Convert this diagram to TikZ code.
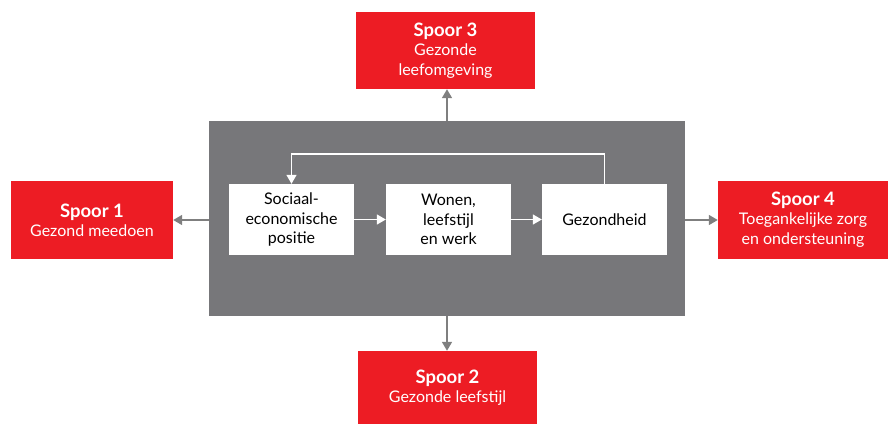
\documentclass[tikz,border=0pt]{standalone}
\usepackage{fontspec}
\setmainfont{Lato}
\usetikzlibrary{arrows.meta}
\definecolor{spred}{HTML}{ED1C24}
\definecolor{bggray}{HTML}{77777A}
\definecolor{argray}{HTML}{7F7F7F}
\begin{document}
\begin{tikzpicture}[x=1pt,y=-1pt,
  spoor/.style={fill=spred,draw=none,text=white,align=center,inner sep=0pt,font=\fontsize{16}{20}\selectfont},
  wbox/.style={fill=white,draw=none,align=center,inner sep=0pt,minimum width=125pt,minimum height=71pt,font=\fontsize{16}{19.5}\selectfont},
  outarr/.style={draw=argray,line width=1.6pt,-{Triangle[length=9pt,width=10pt]}},
  inarr/.style={draw=white,line width=1.4pt,-{Triangle[length=9pt,width=10pt]}}]
\useasboundingbox (0,0) rectangle (888,424);
\node[fill=bggray,minimum width=476pt,minimum height=195pt,inner sep=0pt] (g) at (447,218.5) {};
\node[spoor,minimum width=162pt,minimum height=78pt] (s1) at (92,220) {\textbf{\fontsize{18.5}{22}\selectfont Spoor 1}\\[-1pt]Gezond meedoen};
\node[spoor,minimum width=179pt,minimum height=77pt] (s3) at (445.5,50.5) {\textbf{\fontsize{18.5}{22}\selectfont Spoor 3}\\[-1pt]Gezonde\\leefomgeving};
\node[spoor,minimum width=170pt,minimum height=78pt] (s4) at (803,220) {\textbf{\fontsize{18.5}{22}\selectfont Spoor 4}\\[-1pt]Toegankelijke zorg\\en ondersteuning};
\node[spoor,minimum width=179pt,minimum height=73pt] (s2) at (447.5,387.5) {\textbf{\fontsize{18.5}{22}\selectfont Spoor 2}\\[-1pt]Gezonde leefstijl};
\node[wbox] (b1) at (291.5,219.5) {Sociaal-\\economische\\positie};
\node[wbox] (b2) at (448.5,219.5) {Wonen,\\leefstijl\\en werk};
\node[wbox] (b3) at (604.5,219.5) {Gezondheid};
\draw[inarr] (b1) -- (b2);
\draw[inarr] (b2) -- (b3);
\draw[inarr] (b3.north) -- ++(0,-30) -| (b1.north);
\draw[outarr] (g.west |- s1.east) -- (s1.east);
\draw[outarr] (g.east |- s4.west) -- (s4.west);
\draw[outarr] (g.north) -- (g.north |- s3.south);
\draw[outarr] (g.south) -- (g.south |- s2.north);
\end{tikzpicture}
\end{document}
